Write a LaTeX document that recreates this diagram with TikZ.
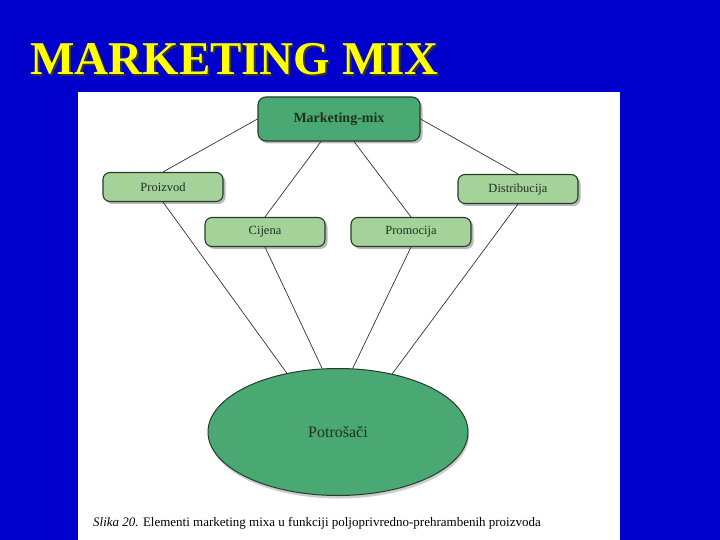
\documentclass[tikz,border=0pt]{standalone}
\usepackage{fontspec}
\setmainfont{Liberation Serif}
\usetikzlibrary{shapes.geometric, shadows}
\definecolor{slideblue}{RGB}{0,0,204}
\definecolor{titleyellow}{RGB}{255,255,0}
\definecolor{mixgreen}{RGB}{74,168,114}
\definecolor{lightgreen}{RGB}{164,210,152}
\definecolor{textgreen}{RGB}{28,50,34}
\definecolor{edgegreen}{RGB}{38,60,44}
\tikzstyle{mixbox} = [rectangle, rounded corners=8pt, minimum width=162pt, minimum height=44pt, draw=edgegreen, line width=1.1pt, fill=mixgreen, text=textgreen, font=\fontsize{14}{16}\selectfont\bfseries, drop shadow={shadow xshift=2.5pt, shadow yshift=-2.5pt, opacity=0.55}]
\tikzstyle{element} = [rectangle, rounded corners=7pt, minimum width=120pt, minimum height=29pt, draw=edgegreen, line width=1.1pt, fill=lightgreen, text=textgreen, font=\fontsize{12.5}{14}\selectfont, drop shadow={shadow xshift=2.5pt, shadow yshift=-2.5pt, opacity=0.55}]
\tikzstyle{link} = [draw=black!80, line width=0.7pt]
\tikzset{
	consumer/.style={ellipse, minimum width=260pt, minimum height=127pt, inner sep=0pt, draw=edgegreen, line width=1pt, fill=mixgreen, text=textgreen, font=\fontsize{16}{18}\selectfont, drop shadow={shadow xshift=1pt, shadow yshift=-3pt, opacity=0.4}},
	slidetitle/.style={anchor=base west, inner sep=0pt, font=\fontsize{47}{50}\selectfont\bfseries}
}

\begin{document}
\begin{tikzpicture}[x=1pt, y=-1pt]

	% Slide background and white panel
	\fill[slideblue] (0,0) rectangle (720,540);
	\fill[white] (78,92) rectangle (620,540);

	% Title
	\node (titleshadow) [slidetitle, text=black!80] at (32,77) {MARKETING MIX};
	\node (title) [slidetitle, text=titleyellow] at (30,75) {MARKETING MIX};

	% Nodes
	\node (mix) [mixbox] at (339,119) {Marketing-mix};
	\node (proizvod) [element] at (163,187) {Proizvod};
	\node (cijena) [element] at (265,232) {Cijena};
	\node (promocija) [element] at (411,232) {Promocija};
	\node (distribucija) [element] at (518,189) {Distribucija};
	\node (potrosaci) [consumer] at (338,432) {Potrošači};

	% Caption
	\node (caption) [anchor=base west, inner sep=0pt, font=\fontsize{13}{15}\selectfont] at (93,526) {\textit{Slika 20.} Elementi marketing mixa u funkciji poljoprivredno-prehrambenih proizvoda};

	% Lines
	\draw [link] (mix.west) -- (proizvod.north);
	\draw [link] (mix.east) -- (distribucija.north);
	\draw [link] ([xshift=-18pt]mix.south) -- (cijena.north);
	\draw [link] ([xshift=15pt]mix.south) -- (promocija.north);
	\draw [link] (proizvod.south) -- (potrosaci.131);
	\draw [link] (cijena.south) -- (potrosaci.104);
	\draw [link] (promocija.south) -- (potrosaci.77);
	\draw [link] (distribucija.south) -- (potrosaci.47);

\end{tikzpicture}
\end{document}
